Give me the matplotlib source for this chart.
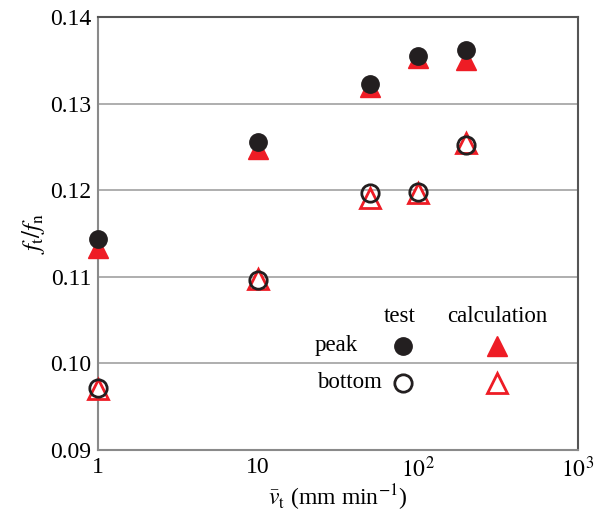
import matplotlib
matplotlib.use("Agg")
import matplotlib.pyplot as plt

plt.rcParams["font.family"] = ["Liberation Serif", "DejaVu Serif"]
plt.rcParams["mathtext.fontset"] = "stix"

# sliding velocity (mm/min)
velocity = [1, 10, 50, 100, 200]

# friction ratio f_t/f_n
peak_test = [0.1143, 0.1255, 0.1323, 0.1355, 0.1362]
peak_calc = [0.1133, 0.1248, 0.1319, 0.1352, 0.1350]
bottom_test = [0.0971, 0.1096, 0.1197, 0.1198, 0.1252]
bottom_calc = [0.0970, 0.1097, 0.1191, 0.1197, 0.1254]

x_ticks = [1, 10, 100, 1000]
x_tick_labels = ["1", "10", "$10^2$", "$10^3$"]
y_ticks = [0.09, 0.10, 0.11, 0.12, 0.13, 0.14]

RED = "#ee1c25"
BLACK = "#231f20"

fig = plt.figure(figsize=(5.94, 5.13), dpi=100)
ax = fig.add_axes([0.165, 0.123, 0.808, 0.844])

ax.set_xscale("log")
ax.set_xlim(1, 1000)
ax.set_ylim(0.09, 0.14)

for y in y_ticks[1:-1]:
    ax.axhline(y, color="#a8a8a8", lw=1.3, zorder=0)

tri_kw = dict(marker="^", ms=14.5, ls="none", clip_on=False)
circ_kw = dict(marker="o", ms=12.5, ls="none", clip_on=False)

ax.plot(velocity, peak_calc, color=RED, mec=RED, zorder=3, **tri_kw)
ax.plot(velocity, peak_test, color=BLACK, mec=BLACK, zorder=4, **circ_kw)
ax.plot(velocity, bottom_calc, mfc="white", mec=RED, mew=2, zorder=3, **tri_kw)
ax.plot(velocity, bottom_test, mfc="none", mec=BLACK, mew=2, zorder=4, **circ_kw)

# key table
fs = 16.5
ax.text(0.629, 0.309, "test", transform=ax.transAxes, fontsize=fs, ha="center", va="center")
ax.text(0.831, 0.309, "calculation", transform=ax.transAxes, fontsize=fs, ha="center", va="center")
ax.text(0.542, 0.240, "peak", transform=ax.transAxes, fontsize=fs, ha="right", va="center")
ax.text(0.592, 0.155, "bottom", transform=ax.transAxes, fontsize=fs, ha="right", va="center")
ax.plot([0.635], [0.240], transform=ax.transAxes, marker="o", ms=12.5, color=BLACK, clip_on=False)
ax.plot([0.635], [0.155], transform=ax.transAxes, marker="o", ms=12.5, mfc="none",
        mec=BLACK, mew=2, clip_on=False)
ax.plot([0.831], [0.240], transform=ax.transAxes, marker="^", ms=14.5, color=RED, clip_on=False)
ax.plot([0.831], [0.155], transform=ax.transAxes, marker="^", ms=14.5, mfc="white",
        mec=RED, mew=2, clip_on=False)

ax.set_xticks(x_ticks)
ax.set_xticklabels(x_tick_labels)
ax.xaxis.set_minor_locator(matplotlib.ticker.NullLocator())
ax.set_yticks(y_ticks)
ax.set_yticklabels([f"{v:.2f}" for v in y_ticks])
ax.tick_params(length=0, labelsize=17, pad=5)

for side in ("left", "bottom"):
    ax.spines[side].set_color("#8a8a8a")
    ax.spines[side].set_linewidth(1.5)
for side in ("top", "right"):
    ax.spines[side].set_color("#555555")
    ax.spines[side].set_linewidth(1.5)

ax.set_xlabel(r"$\bar{v}_{\mathrm{t}}$ (mm min$^{-1}$)", fontsize=17, labelpad=0)
ax.set_ylabel(r"$f_{\mathrm{t}}/f_{\mathrm{n}}$", fontsize=18, labelpad=2)

fig.savefig("out.png", dpi=100)
